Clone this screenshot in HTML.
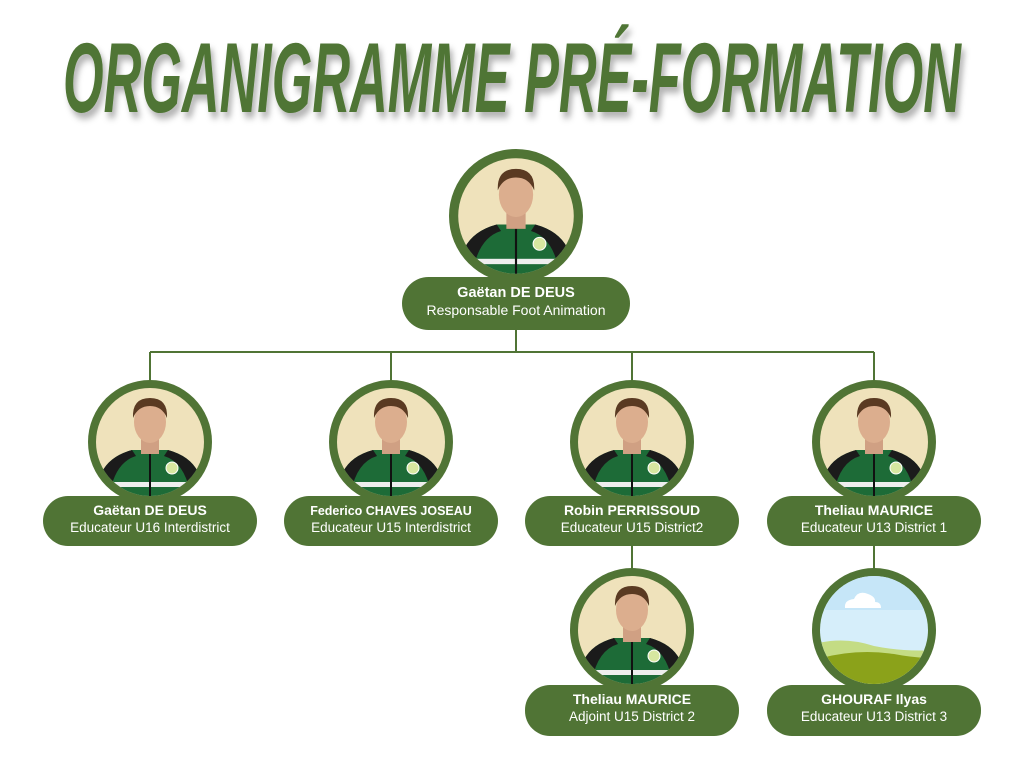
<!DOCTYPE html>
<html><head><meta charset="utf-8"><style>
html,body{margin:0;padding:0;background:#fff;}
svg{display:block;}
</style></head><body>
<svg width="1024" height="768" viewBox="0 0 1024 768" xmlns="http://www.w3.org/2000/svg">
<defs>
<filter id="sh" x="-5%" y="-20%" width="110%" height="150%"><feDropShadow dx="3" dy="5" stdDeviation="3" flood-color="#000" flood-opacity="0.3"/></filter>
<g id="person">
<rect x="-60" y="-60" width="120" height="120" fill="#efe2bb"/>
<path d="M-52 60 L-48 30 Q-40 14 -18 8 L18 8 Q40 14 48 30 L52 60 Z" fill="#1d6b37"/>
<path d="M-48 30 Q-40 14 -18 8 L-14 14 Q-34 20 -40 50 Z" fill="#1b1b1b"/>
<path d="M48 30 Q40 14 18 8 L14 14 Q34 20 40 50 Z" fill="#1b1b1b"/>
<rect x="-50" y="40" width="100" height="5" fill="#eee"/>
<line x1="0" y1="10" x2="0" y2="60" stroke="#111" stroke-width="2"/>
<circle cx="22" cy="26" r="6" fill="#d7e7a0" stroke="#fff" stroke-width="1"/>
<rect x="-9" y="-4" width="18" height="16" fill="#d0a083"/>
<ellipse cx="0" cy="-20" rx="16" ry="21" fill="#dcae8e"/>
<path d="M-17 -24 Q-18 -44 0 -44 Q18 -44 17 -24 Q12 -36 0 -36 Q-12 -36 -17 -24 Z" fill="#5a3a22"/>
</g>
<clipPath id="c1"><circle cx="0" cy="0" r="54"/></clipPath>
</defs>

<text x="512" y="106" text-anchor="middle" font-family="Liberation Sans, sans-serif" font-weight="bold" font-style="italic" font-size="84" fill="#4f7434" textLength="898" lengthAdjust="spacingAndGlyphs" filter="url(#sh)" transform="translate(512,72) scale(1,1.18) translate(-512,-72)">ORGANIGRAMME PRÉ-FORMATION</text>

<g stroke="#507435" stroke-width="2" fill="none">
<line x1="516" y1="330" x2="516" y2="352"/>
<line x1="150" y1="352" x2="874" y2="352"/>
<line x1="150" y1="352" x2="150" y2="382"/>
<line x1="391" y1="352" x2="391" y2="382"/>
<line x1="632" y1="352" x2="632" y2="382"/>
<line x1="874" y1="352" x2="874" y2="382"/>
<line x1="632" y1="546" x2="632" y2="570"/>
<line x1="874" y1="546" x2="874" y2="570"/>
</g>

<!-- top -->
<g transform="translate(516,216)">
<circle r="67" fill="#507435"/>
<g transform="scale(1.07)"><g clip-path="url(#c1)"><use href="#person"/></g></g>
</g>
<rect x="402" y="277" width="228" height="53" rx="26.5" fill="#507435"/>
<g font-family="Liberation Sans, sans-serif" fill="#fff" text-anchor="middle">
<text x="516" y="297" font-size="14.5" font-weight="bold">Gaëtan DE DEUS</text>
<text x="516" y="315" font-size="14">Responsable Foot Animation</text>
</g>

<!-- row nodes -->
<g transform="translate(150,442)"><circle r="62" fill="#507435"/><g clip-path="url(#c1)"><use href="#person"/></g></g>
<g transform="translate(391,442)"><circle r="62" fill="#507435"/><g clip-path="url(#c1)"><use href="#person"/></g></g>
<g transform="translate(632,442)"><circle r="62" fill="#507435"/><g clip-path="url(#c1)"><use href="#person"/></g></g>
<g transform="translate(874,442)"><circle r="62" fill="#507435"/><g clip-path="url(#c1)"><use href="#person"/></g></g>
<g transform="translate(632,630)"><circle r="62" fill="#507435"/><g clip-path="url(#c1)"><use href="#person"/></g></g>
<g transform="translate(874,630)"><circle r="62" fill="#507435"/>
<g clip-path="url(#c1)">
<rect x="-60" y="-60" width="120" height="120" fill="#d6eefa"/>
<rect x="-60" y="-60" width="120" height="40" fill="#c6e6f8"/>
<path d="M-60 14 Q-30 6 0 16 Q30 22 60 20 L60 60 L-60 60 Z" fill="#c4dc84"/>
<path d="M-60 30 Q-20 18 20 24 Q40 28 60 28 L60 60 L-60 60 Z" fill="#8ba21a"/>
<path d="M-29 -22 Q-30 -30 -20 -31 Q-16 -40 -6 -36 Q2 -33 1 -28 Q7 -28 7 -22 Z" fill="#fff"/>
</g></g>

<g fill="#507435">
<rect x="43" y="496" width="214" height="50" rx="25"/>
<rect x="284" y="496" width="214" height="50" rx="25"/>
<rect x="525" y="496" width="214" height="50" rx="25"/>
<rect x="767" y="496" width="214" height="50" rx="25"/>
<rect x="525" y="685" width="214" height="51" rx="25"/>
<rect x="767" y="685" width="214" height="51" rx="25"/>
</g>
<g font-family="Liberation Sans, sans-serif" fill="#fff" text-anchor="middle" font-size="13.5">
<text x="150" y="515" font-weight="bold" font-size="14">Gaëtan DE DEUS</text>
<text x="150" y="532">Educateur U16 Interdistrict</text>
<text x="391" y="515" font-weight="bold" font-size="12.5">Federico CHAVES JOSEAU</text>
<text x="391" y="532">Educateur U15 Interdistrict</text>
<text x="632" y="515" font-weight="bold" font-size="14">Robin PERRISSOUD</text>
<text x="632" y="532">Educateur U15 District2</text>
<text x="874" y="515" font-weight="bold" font-size="14">Theliau MAURICE</text>
<text x="874" y="532">Educateur U13 District 1</text>
<text x="632" y="704" font-weight="bold" font-size="14">Theliau MAURICE</text>
<text x="632" y="721">Adjoint U15 District 2</text>
<text x="874" y="704" font-weight="bold" font-size="14">GHOURAF Ilyas</text>
<text x="874" y="721">Educateur U13 District 3</text>
</g>
</svg>
</body></html>
